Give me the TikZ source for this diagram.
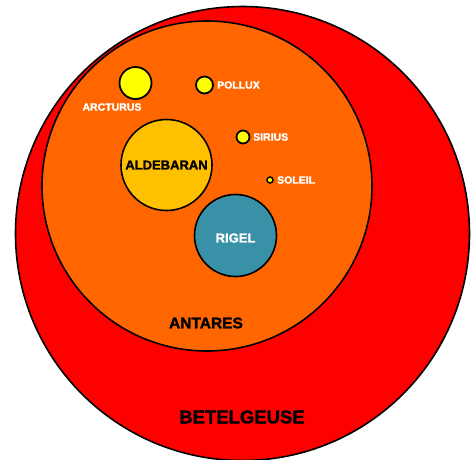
\documentclass[tikz,border=0pt]{standalone}
\usepackage{fontspec}
\setmainfont{Liberation Sans}[BoldFeatures={FakeBold=1.6}]
\definecolor{betel}{HTML}{FF0000}
\definecolor{antar}{HTML}{FF6600}
\definecolor{aldeb}{HTML}{FFC000}
\definecolor{rigel}{HTML}{3891A7}
\definecolor{small}{HTML}{FFFF00}
\tikzset{
  body/.style={circle, draw=black, inner sep=0pt, line width=1.6pt},
  starname/.style={font=\bfseries\fontsize{#1}{#1}\selectfont, inner sep=0pt},
  wname/.style={starname=10.5, text=white, anchor=west}
}
\begin{document}
\begin{tikzpicture}[x=1pt,y=-1pt]
\useasboundingbox (0,0) rectangle (472,459);
\path
(242.5,233.5) node[body, fill=betel, minimum size=454pt] (Bet) {}
(207,186) node[body, fill=antar, minimum size=330pt] (Ant) {}
(135.5,83) node[body, fill=small, minimum size=32pt, line width=1.8pt] (Arc) {}
(204.5,85) node[body, fill=small, minimum size=17pt, line width=1.8pt] (Pol) {}
(166.5,165) node[body, fill=aldeb, minimum size=91pt] (Ald) {}
(243,137) node[body, fill=small, minimum size=13pt, line width=1.8pt] (Sir) {}
(270,180) node[body, fill=small, minimum size=6pt, line width=1.5pt] (Sol) {}
(235.5,235.5) node[body, fill=rigel, minimum size=82pt] (Rig) {};
%labels
\node[starname=10.5, text=white] (ArcL) at (112,107) {ARCTURUS};
\node[wname] (PolL) at (217,85) {POLLUX};
\node[wname] (SirL) at (253,137) {SIRIUS};
\node[wname] (SolL) at (277,180) {SOLEIL};
\node[starname=13] (AldL) at (Ald) {ALDEBARAN};
\node[starname=13, text=white] (RigL) at (235.5,238) {RIGEL};
\node[starname=15.5] (AntL) at (206,323) {ANTARES};
\node[starname=18.5] (BetL) at (242,417) {BETELGEUSE};
\end{tikzpicture}
\end{document}
